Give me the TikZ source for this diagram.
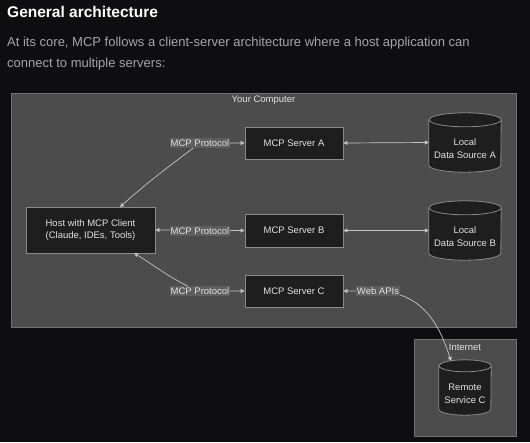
\documentclass[tikz,border=0pt]{standalone}
\usepackage{fontspec}
\setmainfont{Liberation Sans}
\usetikzlibrary{arrows.meta,calc}
\definecolor{bgc}{HTML}{0E0E11}
\definecolor{contfill}{HTML}{4C4C4C}
\definecolor{contline}{HTML}{707070}
\definecolor{boxfill}{HTML}{1E1E1E}
\definecolor{boxline}{HTML}{8A8A8A}
\definecolor{edgec}{HTML}{C4C4C4}
\definecolor{lblfill}{HTML}{5E5E5E}
\definecolor{txtc}{HTML}{E2E2E2}
\definecolor{paratxt}{HTML}{A6A6A6}
\tikzset{
  container/.style={draw=contline, fill=contfill, line width=0.8pt},
  procbox/.style={draw=boxline, fill=boxfill, line width=0.8pt, text=txtc, font=\fontsize{9.5}{12}\selectfont, align=center, inner sep=0pt},
  cylnode/.style={inner sep=0pt, text=txtc, font=\fontsize{9.5}{13}\selectfont, align=center},
  cylshape/.style={draw=boxline, fill=boxfill, line width=0.8pt},
  edgelbl/.style={fill=lblfill, text=txtc, font=\fontsize{9.5}{12}\selectfont, inner xsep=1pt, inner ysep=2pt},
  conn/.style={draw=edgec, line width=0.7pt, {Triangle[length=4pt,width=4pt]}-{Triangle[length=4pt,width=4pt]}},
  grouplbl/.style={text=txtc, font=\fontsize{9.5}{12}\selectfont, inner sep=0pt}
}
\newcommand{\cylpath}[3]{% node name, half width, ry
  \fill[boxfill] ($(#1.north west)+(0,-#3)$) -- ($(#1.south west)+(0,#3)$)
     arc[start angle=180,end angle=360,x radius=#2,y radius=#3]
     -- ($(#1.north east)+(0,-#3)$)
     arc[start angle=0,end angle=180,x radius=#2,y radius=#3] -- cycle;
  \draw[cylshape, fill=none] ($(#1.north west)+(0,-#3)$) -- ($(#1.south west)+(0,#3)$)
     arc[start angle=180,end angle=360,x radius=#2,y radius=#3]
     -- ($(#1.north east)+(0,-#3)$)
     arc[start angle=0,end angle=360,x radius=#2,y radius=#3];
}
\begin{document}
\begin{tikzpicture}[x=1pt,y=1pt]
\fill[bgc] (0,0) rectangle (530,-442);
\useasboundingbox (0,0) rectangle (530,-442);

\node[anchor=base west, text=white, font=\fontsize{15.5}{18}\bfseries\selectfont, inner sep=0pt] (title) at (7,-17) {General architecture};
\node[anchor=base west, text=paratxt, font=\fontsize{13}{15}\selectfont, inner sep=0pt] (para1) at (7,-46) {At its core, MCP follows a client-server architecture where a host application can};
\node[anchor=base west, text=paratxt, font=\fontsize{13}{15}\selectfont, inner sep=0pt] (para2) at (7,-67) {connect to multiple servers:};

% containers
\draw[container] (11,-93) rectangle (516,-327);
\node[grouplbl] (yc) at (263.5,-100) {Your Computer};
\draw[container] (414,-339) rectangle (516,-436);
\node[grouplbl] (inet) at (465,-347) {Internet};

% nodes
\node[procbox, minimum width=129pt, minimum height=46pt] (host) at (90.5,-230) {Host with MCP Client\\(Claude, IDEs, Tools)};
\node[procbox, minimum width=98pt, minimum height=32pt] (sA) at (294,-143) {MCP Server A};
\node[procbox, minimum width=98pt, minimum height=33pt] (sB) at (294,-230.5) {MCP Server B};
\node[procbox, minimum width=98pt, minimum height=32pt] (sC) at (294,-291) {MCP Server C};

\node[cylnode, minimum width=72pt, minimum height=59pt] (cA) at (465,-142.5) {};
\node[cylnode, minimum width=72pt, minimum height=59pt] (cB) at (465,-230.5) {};
\node[cylnode, minimum width=52pt, minimum height=55pt] (rC) at (465,-387.5) {};
\cylpath{cA}{36}{7}
\cylpath{cB}{36}{7}
\cylpath{rC}{26}{6}
\node[cylnode] (cAt) at (465,-149) {Local\\Data Source A};
\node[cylnode] (cBt) at (465,-237) {Local\\Data Source B};
\node[cylnode] (rCt) at (465,-393.5) {Remote\\Service C};

% connector endpoints
\coordinate (hA) at (120,-207);
\coordinate (hC) at (134,-253);
\coordinate (rT) at (451,-361);

% label anchor positions
\coordinate (lA) at (200,-143);
\coordinate (lB) at (200,-231);
\coordinate (lC) at (200,-291);
\coordinate (lW) at (378,-291);

% connectors
\draw[conn] (hA) .. controls (150,-180) and (180,-158) .. (lA) -- (sA.west);
\draw[conn] (host.east) -- (sB.west);
\draw[conn] (hC) .. controls (155,-266) and (180,-285) .. (lC) -- (sC.west);
\draw[conn] (sA.east) -- (cA.west);
\draw[conn] (sB.east) -- (cB.west);
\draw[conn] (sC.east) -- (lW) .. controls (420,-293) and (438,-320) .. (rT);

% edge labels
\node[edgelbl] (lblA) at (lA) {MCP Protocol};
\node[edgelbl] (lblB) at (lB) {MCP Protocol};
\node[edgelbl] (lblC) at (lC) {MCP Protocol};
\node[edgelbl] (lblW) at (lW) {Web APIs};
\end{tikzpicture}
\end{document}
